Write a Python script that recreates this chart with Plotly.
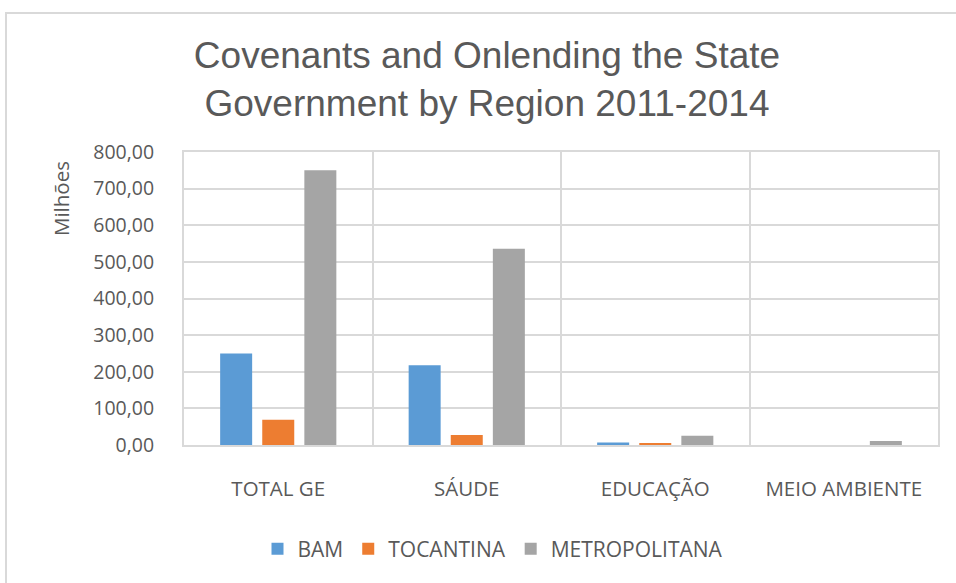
import plotly.graph_objects as go

categories = ["TOTAL GE", "SÁUDE", "EDUCAÇÃO", "MEIO AMBIENTE"]
series_names = ["BAM", "TOCANTINA", "METROPOLITANA"]
bam = [250, 218, 7, 0]
tocantina = [69, 27, 5, 0]
metropolitana = [750, 536, 25, 11]
colors = ["#5B9BD5", "#ED7D31", "#A5A5A5"]

W, H = 956, 583
L, R, T, B = 184, 18, 152, 138
pw, ph = W - L - R, H - T - B

def px_x(p):
    return (p - L) / pw

def px_y(p):
    return (H - B - p) / ph

fig = go.Figure()
for name, vals, c in zip(series_names, [bam, tocantina, metropolitana], colors):
    fig.add_trace(go.Bar(x=categories, y=vals, name=name, marker=dict(color=c, line=dict(width=0))))

fig.update_layout(
    width=W, height=H,
    margin=dict(l=L, r=R, t=T, b=B),
    paper_bgcolor="white", plot_bgcolor="white",
    separators=",.",
    barmode="group", bargap=0.33, bargroupgap=0.24,
    title=dict(text="Covenants and Onlending the State<br>Government by Region 2011-2014",
               x=487 / W, xanchor="center", y=1 - 68 / H, yanchor="top",
               font=dict(family="Liberation Sans, Arial", size=37, color="#595959")),
    font=dict(family="Open Sans, Lato, sans-serif", color="#595959"),
    xaxis=dict(type="category", tickson="boundaries", showgrid=True, gridcolor="#D9D9D9", gridwidth=2,
               ticks="", showline=True, linecolor="#D9D9D9", linewidth=2, mirror=True,
               tickfont=dict(size=20.5, color="#595959"), ticklabelstandoff=24),
    yaxis=dict(range=[0, 800], dtick=100, tickformat=".2f", showgrid=True, gridcolor="#D9D9D9", gridwidth=2,
               showline=True, linecolor="#D9D9D9", linewidth=2, mirror=True, zeroline=False,
               tickfont=dict(size=19.5, color="#595959"), ticks="", ticklabelstandoff=24),
    legend=dict(orientation="h", x=px_x(493), xanchor="center", y=px_y(549), yanchor="middle",
                font=dict(size=21, color="#595959"), itemwidth=30, traceorder="normal"),
    annotations=[dict(text="Milhões", textangle=-90, xref="paper", yref="paper",
                      x=px_x(61), y=px_y(198), xanchor="center", yanchor="middle", showarrow=False,
                      font=dict(size=20.5, color="#595959"))],
    shapes=[dict(type="rect", xref="paper", yref="paper", x0=px_x(6), x1=px_x(1000),
                 y0=px_y(640), y1=px_y(13), line=dict(color="#D9D9D9", width=2), layer="below")],
)

fig.write_html("out.html")
